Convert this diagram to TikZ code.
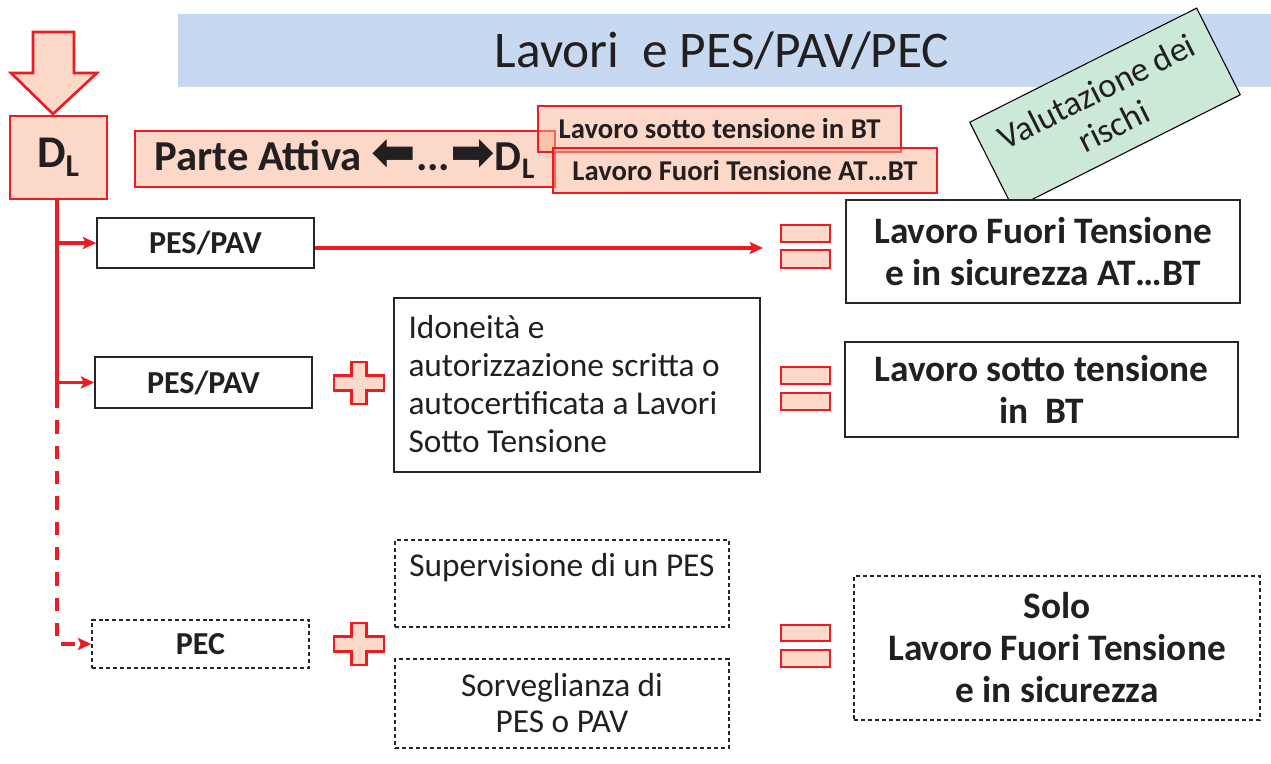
\documentclass[tikz,border=0pt]{standalone}
\usepackage{fontspec}
\setmainfont{Carlito}
\newfontfamily\arrowfont{DejaVu Sans}
\usepackage{tikz}
\usetikzlibrary{arrows.meta,positioning}
\definecolor{redline}{RGB}{237,28,36}
\definecolor{pinkfill}{RGB}{249,177,145}
\definecolor{titleblue}{RGB}{198,217,240}
\definecolor{riskgreen}{RGB}{204,232,215}
\definecolor{textgray}{RGB}{35,31,32}
\tikzset{every picture/.style={line width=0.75pt}}

\begin{document}
\begin{tikzpicture}[x=0.75pt,y=0.75pt,yscale=-1,xscale=1,
  redbox/.style={draw=redline, line width=1.5pt, fill=pinkfill, fill opacity=0.5, text opacity=1, text=textgray, inner sep=0pt},
  redshape/.style={draw=redline, line width=2pt, fill=pinkfill, fill opacity=0.5},
  blackbox/.style={draw=black!85, line width=1.1pt, fill=white, text=textgray, inner sep=0pt},
  dashbox/.style={blackbox, dash pattern={on 3pt off 2.2pt}},
  boxsize/.style 2 args={minimum width=#1*0.75pt, minimum height=#2*0.75pt},
  redarrow/.style={draw=redline, line width=2.6pt, -{Stealth[length=10pt,width=9pt,inset=2pt]}},
  rowfont/.style={font=\fontsize{24}{28}\selectfont\bfseries},
  bigfont/.style={font=\fontsize{28}{31.5}\selectfont\bfseries},
  plainfont/.style={font=\fontsize{25}{28.5}\selectfont}
  ]
\useasboundingbox (0,0) rectangle (1271,764);

%Shape: Title band
\fill[titleblue] (178,14) rectangle (1271,87);
% Text Node
\node[text=textgray, font=\fontsize{38.5}{44}\selectfont] (title) at (722,51) {Lavori~ e PES/PAV/PEC};

%Shape: Down arrow
\draw[redshape] (33,32) -- (74,32) -- (74,73) -- (97,73) -- (53,114) -- (11,73) -- (33,73) -- cycle;
\node[redbox, boxsize={97}{83}, font=\fontsize{34}{40}\selectfont\bfseries] (dl) at (58.5,157.5) {D\textsubscript{L}};

%Shape: red boxes on top
\node[redbox, boxsize={420}{56}, font=\fontsize{32}{36}\selectfont\bfseries] (attiva) at (345,159)
  {Parte Attiva {\arrowfont\bfseries\fontsize{40}{40}\selectfont ⬅}...{\arrowfont\bfseries\fontsize{40}{40}\selectfont ➡}D\textsubscript{L}};
\node[redbox, boxsize={363}{46}, font=\fontsize{21.5}{25}\selectfont\bfseries] (sotto) at (719.5,129) {Lavoro sotto tensione in BT};
\node[redbox, boxsize={384}{45}, font=\fontsize{21.5}{25}\selectfont\bfseries] (fuori) at (745,170.5) {Lavoro Fuori Tensione AT…BT};

%Shape: rotated note
\node[draw=black, line width=0.8pt, fill=riskgreen, boxsize={254}{97}, rotate=26.7, align=center, text=textgray,
  font=\fontsize{26}{29}\selectfont, inner sep=0pt] (rischi) at (1105,108.5) {Valutazione dei\\rischi};

% Rows
\node[blackbox, boxsize={217}{50}, rowfont] (pesA) at (205.5,243) {PES/PAV};
\node[blackbox, boxsize={217}{51}, rowfont] (pesB) at (203.5,382.5) {PES/PAV};
\node[dashbox, boxsize={217}{48}, rowfont] (pec) at (200.5,644) {PEC};

\node[blackbox, boxsize={366}{174}] (idon) at (577,385) {};
% Text Node
\node[plainfont, text=textgray, inner sep=0pt, align=left, anchor=west] (idontext) at (408,384)
  {Idoneità e\\autorizzazione scritta o\\autocertificata a Lavori\\Sotto Tensione};
\node[dashbox, boxsize={334}{87}] (superv) at (562,583.5) {};
% Text Node
\node[plainfont, text=textgray, inner sep=0pt, below=10pt of superv.north] (supervtext) {Supervisione di un PES};
\node[dashbox, boxsize={334}{89}, font=\fontsize{25}{27}\selectfont, align=center] (sorv) at (562,703.5)
  {Sorveglianza di\\PES o PAV};

% Results
\node[blackbox, boxsize={394}{103}, bigfont, align=center] (lftA) at (1043,251.5) {Lavoro Fuori Tensione\\e in sicurezza AT…BT};
\node[blackbox, boxsize={393}{95}, bigfont, align=center] (lst) at (1041.5,389.5) {Lavoro sotto tensione\\in~ BT};
\node[dashbox, boxsize={406}{144}, bigfont, align=center] (lftB) at (1057,648) {Solo\\Lavoro Fuori Tensione\\e in sicurezza};

%Shape: Plus
\draw[redshape, shift={(359,383)}] (-25,-7.5) -- (-7.5,-7.5) -- (-7.5,-21) -- (7.5,-21) -- (7.5,-7.5) -- (25,-7.5)
  -- (25,7.5) -- (7.5,7.5) -- (7.5,21) -- (-7.5,21) -- (-7.5,7.5) -- (-25,7.5) -- cycle;
\draw[redshape, shift={(359,644)}] (-25,-7.5) -- (-7.5,-7.5) -- (-7.5,-21) -- (7.5,-21) -- (7.5,-7.5) -- (25,-7.5)
  -- (25,7.5) -- (7.5,7.5) -- (7.5,21) -- (-7.5,21) -- (-7.5,7.5) -- (-25,7.5) -- cycle;
%Shape: Equals
\draw[redshape] (781,225) rectangle (830,242);
\draw[redshape] (781,250) rectangle (830,268);
\draw[redshape] (781,367) rectangle (830,384);
\draw[redshape] (781,393) rectangle (830,410);
\draw[redshape] (781,625) rectangle (830,641);
\draw[redshape] (781,650) rectangle (830,667);

% Connectors
\coordinate (split) at (57,395);
\coordinate (eqA) at (763,248);
\draw[redline, line width=2.8pt] (split |- dl.south) -- (split);
\draw[redarrow] (split |- pesA.west) -- (pesA.west);
\draw[redarrow] (split |- pesB.west) -- (pesB.west);
\draw[redarrow, dash pattern=on 10pt off 9pt] (split) |- (pec.west);
\draw[redarrow] (pesA.east |- eqA) -- (eqA);

\end{tikzpicture}
\end{document}
